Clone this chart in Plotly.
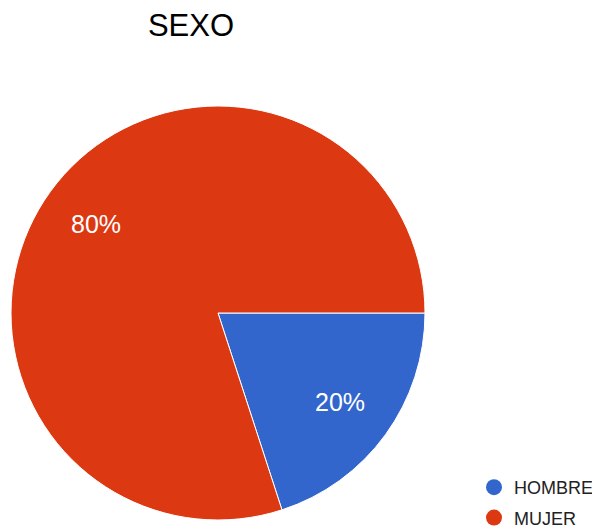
import math
import plotly.graph_objects as go

categories = ["HOMBRE", "MUJER"]
values = [20, 80]
colors = ["#3366CC", "#DC3912"]
title_text = "SEXO"

# the page body adds an 8px margin, so the figure is drawn 8px smaller
# and every position is shifted by that offset
OFF = 8
W, H = 600 - OFF, 529 - OFF
font = "Arial, Liberation Sans, sans-serif"

# pie geometry (pixels, in figure coordinates)
CX, CY, R = 218 - OFF, 313 - OFF, 207
LABEL_R = 0.73

fig = go.Figure()
fig.add_trace(go.Pie(
    labels=categories,
    values=values,
    sort=False,
    direction="clockwise",
    rotation=90,
    marker=dict(colors=colors, line=dict(color="white", width=1)),
    textinfo="none",
    hoverinfo="label+percent",
    showlegend=False,
    domain=dict(x=[(CX - R) / W, (CX + R) / W], y=[1 - (CY + R) / H, 1 - (CY - R) / H]),
))

# percent labels placed at the middle angle of each slice (computed from values)
total = sum(values)
cum = 0.0
for v in values:
    frac = v / total
    mid = cum + frac / 2
    cum += frac
    ang = -mid * 2 * math.pi  # clockwise from 3 o'clock
    px = CX + LABEL_R * R * math.cos(ang)
    py = CY - LABEL_R * R * math.sin(ang)
    fig.add_annotation(
        x=px / W, y=1 - py / H, xref="paper", yref="paper",
        text=f"{round(frac * 100)}%", showarrow=False,
        xanchor="center", yanchor="middle",
        font=dict(family=font, size=25, color="white"),
    )

for cat, col in zip(categories, colors):
    fig.add_trace(go.Scatter(
        x=[None], y=[None], mode="markers", name=cat, legendgroup=cat,
        marker=dict(color=col, size=16, symbol="circle"),
        showlegend=True,
    ))

fig.update_layout(
    width=W, height=H,
    margin=dict(l=0, r=0, t=0, b=0, autoexpand=False),
    paper_bgcolor="white",
    plot_bgcolor="white",
    font=dict(family=font, color="#222222"),
    title=dict(text=title_text, x=(191 - OFF) / W, xanchor="center",
               y=1 - (25 - OFF) / H, yanchor="middle",
               xref="paper", yref="paper",
               font=dict(family=font, size=31, color="black")),
    xaxis=dict(visible=False),
    yaxis=dict(visible=False),
    legend=dict(x=(474 - OFF) / W, xanchor="left", y=1 - (469 - OFF) / H, yanchor="top",
                font=dict(family=font, size=18, color="#222222"),
                itemwidth=30, tracegroupgap=4, bgcolor="rgba(0,0,0,0)"),
)

fig.write_html("out.html")
